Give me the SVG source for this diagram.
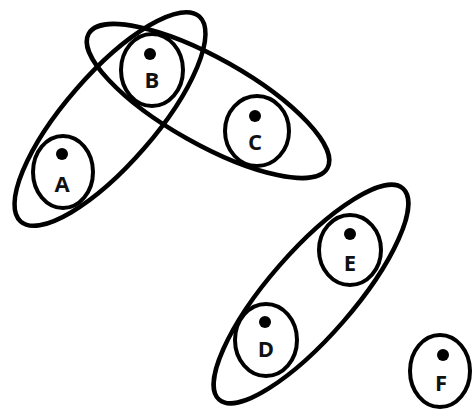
<svg xmlns="http://www.w3.org/2000/svg" width="472" height="411" viewBox="0 0 472 411">
<style>
.grp{fill:none;stroke:#000;stroke-width:4.5}
.node ellipse{fill:none;stroke:#000;stroke-width:4}
.dot{fill:#000}
.lbl{font-family:"Open Sans","Liberation Sans",sans-serif;font-weight:bold;font-size:22px;fill:#111;text-anchor:middle}
</style>
<rect width="472" height="411" fill="#fff"/>
<g id="groups">
<ellipse id="group-AB" class="grp" cx="110" cy="119" rx="136" ry="45" transform="rotate(-49 110 119)"/>
<ellipse id="group-BC" class="grp" cx="208" cy="101" rx="137" ry="43" transform="rotate(29.4 208 101)"/>
<ellipse id="group-DE" class="grp" cx="311" cy="294" rx="140" ry="42.5" transform="rotate(-49 311 294)"/>
</g>
<g id="node-A" class="node"><ellipse cx="63" cy="172" rx="30" ry="36"/><circle class="dot" cx="62" cy="154" r="6"/><text class="lbl" x="62" y="192">A</text></g>
<g id="node-B" class="node"><ellipse cx="152" cy="70" rx="31" ry="36"/><circle class="dot" cx="150" cy="54" r="6"/><text class="lbl" x="152" y="88">B</text></g>
<g id="node-C" class="node"><ellipse cx="257" cy="131" rx="32" ry="35"/><circle class="dot" cx="255" cy="116" r="6"/><text class="lbl" x="255" y="150">C</text></g>
<g id="node-D" class="node"><ellipse cx="266" cy="340" rx="31" ry="36"/><circle class="dot" cx="265" cy="322" r="6"/><text class="lbl" x="266" y="357">D</text></g>
<g id="node-E" class="node"><ellipse cx="350" cy="250" rx="31" ry="35"/><circle class="dot" cx="350" cy="234" r="6"/><text class="lbl" x="350" y="271">E</text></g>
<g id="node-F" class="node"><ellipse cx="440" cy="371" rx="30" ry="36"/><circle class="dot" cx="443" cy="355" r="6"/><text class="lbl" x="441" y="391">F</text></g>
<g id="connectors"></g>
</svg>
